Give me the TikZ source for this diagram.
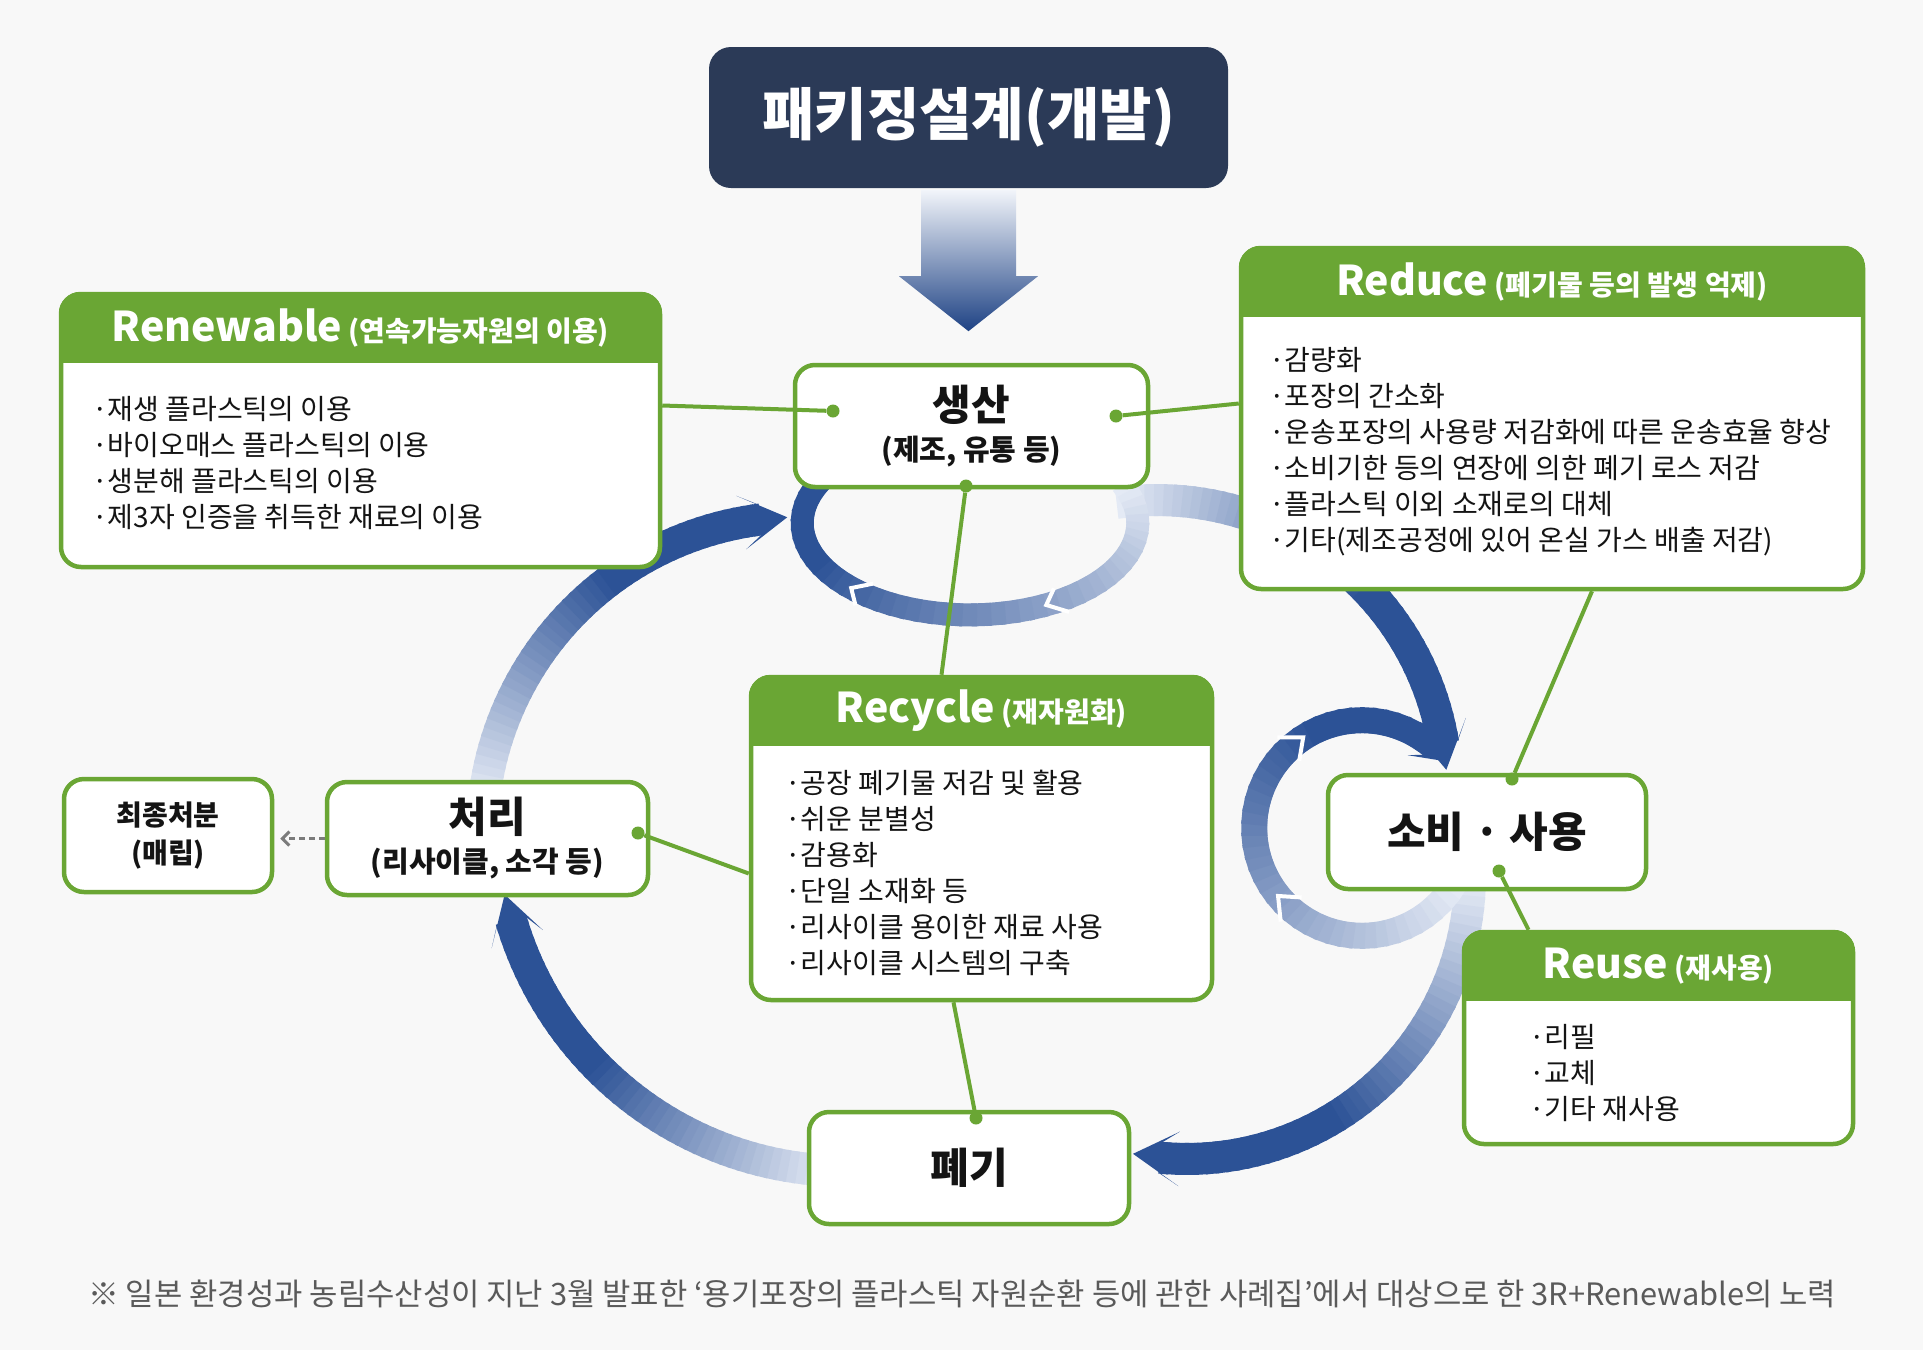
\documentclass[tikz,border=0pt]{standalone}
\usepackage{fontspec}
\setmainfont{Noto Sans CJK KR}
\usetikzlibrary{arrows.meta,calc}
\definecolor{leaf}{RGB}{106,166,52}
\definecolor{navy}{RGB}{43,58,87}
\definecolor{flowdark}{RGB}{44,82,150}
\definecolor{flowdeep}{RGB}{30,66,132}
\definecolor{flowlight}{RGB}{228,234,245}
\definecolor{ink}{RGB}{20,20,20}
\definecolor{note}{RGB}{90,90,90}
\definecolor{paper}{RGB}{248,248,248}

% Band mit Verlauf hell -> dunkel: Mitte, rx, ry, Startwinkel, Endwinkel, Breite, Anteil des Verlaufs
\newcommand{\flowband}[7]{%
  \foreach \k in {0,...,47}{%
    \pgfmathsetmacro{\fa}{#4+(#5-#4)*\k/48}%
    \pgfmathsetmacro{\fb}{#4+(#5-#4)*min(\k+1.4,48)/48}%
    \pgfmathtruncatemacro{\fc}{min(100,100*\k/(48*#7))}%
    \draw[line width=#6, line cap=butt, flowdark!\fc!flowlight]
      ($(#1)+({#2*cos(\fa)},{#3*sin(\fa)})$) -- ($(#1)+({#2*cos(\fb)},{#3*sin(\fb)})$);
  }}
% Bogenpfeil: Mitte, Radius, Startwinkel, Winkel der Spitze, Breite, Anteil des Verlaufs
\newcommand{\flowarrow}[6]{%
  \pgfmathsetmacro{\fwL}{1.45*#5}%
  \pgfmathsetmacro{\fwBarb}{#4-\fwL/#2*57.2958}%
  \pgfmathsetmacro{\fwNotch}{#4-0.62*\fwL/#2*57.2958}%
  \pgfmathsetmacro{\fwEnd}{\fwNotch+0.4}%
  \flowband{#1}{#2}{#2}{#3}{\fwEnd}{#5pt}{#6}%
  \pgfmathsetmacro{\fwRo}{#2+0.85*#5}\pgfmathsetmacro{\fwRi}{#2-0.85*#5}%
  \pgfmathsetmacro{\fwSo}{#2+0.5*#5}\pgfmathsetmacro{\fwSi}{#2-0.5*#5}%
  \fill[flowdark] ($(#1)+(#4:#2)$) -- ($(#1)+(\fwBarb:\fwRo)$) -- ($(#1)+(\fwNotch:\fwSo)$)
    -- ($(#1)+(\fwNotch:\fwSi)$) -- ($(#1)+(\fwBarb:\fwRi)$) -- cycle;}
% weiße Kerbe im Ring: Mitte, rx, ry, Winkel, halbe Breite, Öffnung
\newcommand{\ringnotch}[6]{%
  \draw[white, line width=4pt, line cap=butt, line join=miter]
    ($(#1)+({(#2+#5)*cos(#4-#6)},{(#3+#5)*sin(#4-#6)})$)
    -- ($(#1)+({#2*cos(#4+#6)},{#3*sin(#4+#6)})$)
    -- ($(#1)+({(#2-#5)*cos(#4-#6)},{(#3-#5)*sin(#4-#6)})$);}

\tikzset{
  every picture/.style={line join=round},
  % Kästen
  panel/.style={draw=leaf, line width=4.5pt, fill=white, rounded corners=20pt, inner sep=0pt},
  stage/.style={panel, text=ink, align=center, font=\bfseries},
  % Schrift
  headtxt/.style={text=white, inner sep=0pt, font=\fontsize{28}{30}\selectfont\bfseries},
  bodytxt/.style={text=ink, inner sep=0pt, anchor=north west, align=left,
    font=\fontsize{28}{36}\selectfont},
  % Verbindungen
  link/.style={leaf, line width=4pt},
  dot/.style={circle, fill=leaf, inner sep=0pt, minimum size=13pt},
  hint/.style={note!80, line width=3pt, dash pattern=on 6pt off 4pt,
    -{Straight Barb[length=7pt,width=14pt]}, shorten >=6pt},
}
\newcommand{\hlatin}[1]{{\fontsize{41}{44}\selectfont #1}}

\begin{document}
\begin{tikzpicture}[x=1pt, y=-1pt]
  \useasboundingbox (0,0) rectangle (1923,1350);
  \fill[paper] (0,0) rectangle (1923,1350);

  % Kreislauf, hinter den Kästen
  \coordinate (cA) at (800,835);
  \coordinate (cB) at (1157,790);
  \coordinate (cC) at (1187,876);
  \coordinate (cD) at (846,822);
  \flowarrow{cA}{318}{186}{267.7}{32}{0.6}
  \flowarrow{cB}{290}{262}{356}{32}{0.6}
  \flowarrow{cC}{283}{0}{101}{32}{0.6}
  \flowarrow{cD}{349}{92}{168}{32}{0.6}

  % kleine Ringe an Produktion und Verbrauch
  \coordinate (cP) at (970,523);
  \flowband{cP}{168}{92}{-25}{210}{23pt}{0.75}
  \ringnotch{cP}{168}{92}{60}{14}{3}
  \ringnotch{cP}{168}{92}{132}{14}{3}
  \coordinate (cU) at (1362,828);
  \flowarrow{cU}{108}{30}{322}{26}{0.75}
  \ringnotch{cU}{108}{108}{136}{16}{5}
  \ringnotch{cU}{108}{108}{232}{16}{5}

  % Entwurf
  \node[fill=navy, rounded corners=22pt, minimum width=519pt, minimum height=141pt,
    text=white, font=\fontsize{57}{60}\selectfont\bfseries] (ttl) at (968.5,117.5) {패키징설계(개발)};
  \shade[top color=flowlight!50!white, middle color=flowdark, bottom color=flowdeep]
    ($(ttl.south)+(-47.5,2)$) -- ++(95,0) -- ++(0,86) -- ++(22,0) -- ($(ttl.south)+(0,143)$)
    -- ($(ttl.south)+(-69.5,88)$) -- ++(22,0) -- cycle;

  % Kästen mit Kopfleiste
  \node[panel, minimum width=599pt, minimum height=273pt] (ren) at (360.5,430.5) {};
  \node[panel, minimum width=622pt, minimum height=341pt] (red) at (1552,418.5) {};
  \node[panel, minimum width=461pt, minimum height=323pt] (rec) at (981.5,838.5) {};
  \node[panel, minimum width=389pt, minimum height=212pt] (reu) at (1658.5,1038) {};
  \foreach \b in {ren,red,rec,reu}{
    \begin{scope}
      \clip[rounded corners=22pt] (\b.south west) rectangle (\b.north east);
      \fill[leaf] (\b.north west) rectangle ($(\b.north east)+(0,71)$);
    \end{scope}
  }
  \node[headtxt] (renH) at ($(ren.north)+(0,36)$) {\hlatin{Renewable} (연속가능자원의 이용)};
  \node[headtxt] (redH) at ($(red.north)+(0,36)$) {\hlatin{Reduce} (폐기물 등의 발생 억제)};
  \node[headtxt] (recH) at ($(rec.north)+(0,36)$) {\hlatin{Recycle} (재자원화)};
  \node[headtxt] (reuH) at ($(reu.north)+(0,36)$) {\hlatin{Reuse} (재사용)};
  \node[bodytxt] (renB) at (92,396) {·재생 플라스틱의 이용\\·바이오매스 플라스틱의 이용\\·생분해 플라스틱의 이용\\·제3자 인증을 취득한 재료의 이용};
  \node[bodytxt] (redB) at (1269,347) {·감량화\\·포장의 간소화\\·운송포장의 사용량 저감화에 따른 운송효율 향상\\·소비기한 등의 연장에 의한 폐기 로스 저감\\·플라스틱 이외 소재로의 대체\\·기타(제조공정에 있어 온실 가스 배출 저감)};
  \node[bodytxt] (recB) at (785,770) {·공장 폐기물 저감 및 활용\\·쉬운 분별성\\·감용화\\·단일 소재화 등\\·리사이클 용이한 재료 사용\\·리사이클 시스템의 구축};
  \node[bodytxt] (reuB) at (1529,1024) {·리필\\·교체\\·기타 재사용};

  % Stufen
  \node[stage, minimum width=353pt, minimum height=122pt, font=\fontsize{29}{40}\selectfont\bfseries]
    (prd) at (971.5,426) {{\fontsize{42}{40}\selectfont 생산}\\(제조, 유통 등)};
  \node[stage, minimum width=321pt, minimum height=113pt, font=\fontsize{29}{40}\selectfont\bfseries]
    (pro) at (487.5,838.5) {{\fontsize{42}{40}\selectfont 처리}\\(리사이클, 소각 등)};
  \node[stage, minimum width=208pt, minimum height=113pt, font=\fontsize{28}{38}\selectfont\bfseries]
    (fin) at (168,835.5) {최종처분\\(매립)};
  \node[stage, minimum width=318pt, minimum height=114pt, font=\fontsize{42}{44}\selectfont\bfseries]
    (use) at (1487,832) {소비 · 사용};
  \node[stage, minimum width=320pt, minimum height=112pt, font=\fontsize{42}{44}\selectfont\bfseries]
    (dis) at (969,1168) {폐기};

  % Anschlusspunkte und Linien
  \node[dot] (prdL) at (833,411) {};
  \node[dot] (prdR) at (1116,416) {};
  \node[dot] (prdB) at (966,486) {};
  \node[dot] (proR) at (638,833) {};
  \node[dot] (disT) at (976,1118) {};
  \node[dot] (useT) at (1512,779) {};
  \node[dot] (useB) at (1499,871) {};
  \draw[link] ([yshift=25pt]ren.east) -- (prdL);
  \draw[link] ([yshift=15pt]red.west) -- (prdR);
  \draw[link] (prdB) -- ([xshift=-40pt]rec.north);
  \draw[link] ([yshift=-35pt]rec.west) -- (proR);
  \draw[link] ([xshift=-28pt]rec.south) -- (disT);
  \draw[link] ([xshift=40pt]red.south) -- (useT);
  \draw[link] (useB) -- ([xshift=-130pt]reu.north);
  \draw[hint] (pro.west) -- (pro.west -| fin.east);

  % Quelle
  \node[anchor=west, text=note, inner sep=0pt, font=\fontsize{30.8}{34}\selectfont] (foot) at (88,1294)
    {※ 일본 환경성과 농림수산성이 지난 3월 발표한 ‘용기포장의 플라스틱 자원순환 등에 관한 사례집’에서 대상으로 한 3R+Renewable의 노력};
\end{tikzpicture}
\end{document}
